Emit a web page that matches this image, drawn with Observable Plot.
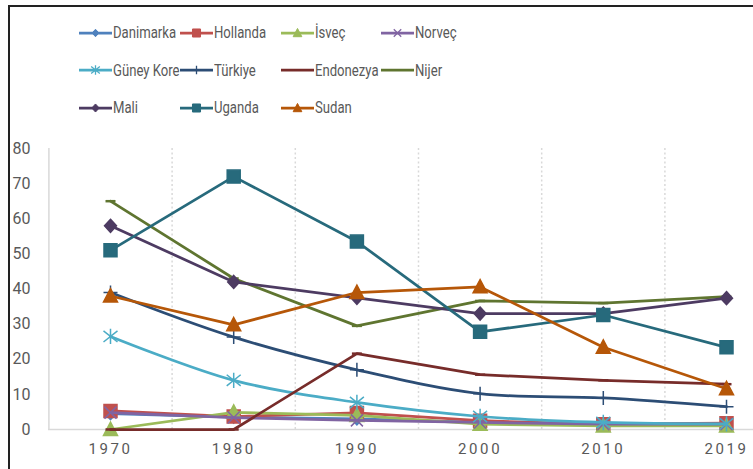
<!DOCTYPE html>
<html>
<head>
<meta charset="utf-8">
<script src="https://cdn.jsdelivr.net/npm/d3@7"></script>
<script src="https://cdn.jsdelivr.net/npm/@observablehq/plot@0.6"></script>
<style>
  html, body { margin: 0; padding: 0; background: #fff; }
  #wrap { position: relative; width: 753px; height: 469px; overflow: hidden; background: #fff; font-family: Roboto, "Noto Sans", sans-serif; }
  #frame { position: absolute; left: 8px; top: 5px; width: 760px; height: 462px; border-left: 2px solid #222; border-top: 2px solid #222; border-bottom: 1.5px solid #888; pointer-events: none; }
  #legend { position: absolute; left: 79px; top: 14px; display: grid; grid-template-columns: 101px 101px 100px auto; grid-auto-rows: 37.5px; }
  .item { display: flex; align-items: center; color: #595959; font-size: 16px; white-space: nowrap; }
  .item svg { flex: none; margin-right: 1px; }
  .item span { display: inline-block; transform: scaleX(0.82); transform-origin: 0 50%; }
  #chart { position: absolute; left: 0; top: 130px; }
  #chart svg { background: transparent; }
  #chart g[aria-label="x-axis tick label"] text { letter-spacing: 2.6px; }
</style>
</head>
<body>
<div id="wrap">
  <div id="legend"></div>
  <div id="chart"></div>
  <div id="frame"></div>
</div>
<script>
// ---- data ----
const years = ["1970", "1980", "1990", "2000", "2010", "2019"];
const countries = ["Danimarka", "Hollanda", "İsveç", "Norveç", "Güney Kore", "Türkiye", "Endonezya", "Nijer", "Mali", "Uganda", "Sudan"];
const danimarka = [4.5, 3.5, 3.0, 2.0, 1.5, 1.5];
const hollanda  = [5.3, 3.7, 4.7, 2.5, 1.5, 1.8];
const isvec     = [0.0, 4.9, 4.0, 1.5, 1.0, 1.0];
const norvec    = [4.8, 3.4, 2.6, 2.0, 1.5, 1.5];
const guneyKore = [26.5, 14.0, 7.7, 3.7, 2.0, 1.6];
const turkiye   = [39.0, 26.3, 17.0, 10.2, 9.0, 6.5];
const endonezya = [0.0, 0.0, 21.6, 15.6, 14.0, 12.9];
const nijer     = [65.0, 43.0, 29.5, 36.6, 36.0, 37.8];
const mali      = [58.0, 42.0, 37.5, 33.0, 33.0, 37.4];
const uganda    = [51.0, 72.0, 53.5, 27.8, 32.6, 23.4];
const sudan     = [38.0, 29.8, 39.0, 40.6, 23.4, 11.6];
const yTicks = [0, 10, 20, 30, 40, 50, 60, 70, 80];

const values = [danimarka, hollanda, isvec, norvec, guneyKore, turkiye, endonezya, nijer, mali, uganda, sudan];
const colors = ["#4F81BD", "#C0504D", "#9BBB59", "#8064A2", "#4BACC6", "#2C4D75", "#772C2A", "#5F7530", "#4D3B62", "#276A7C", "#B65708"];

// ---- marker symbols ----
const rad = s => Math.sqrt(s / Math.PI);
const diamond = { draw(c, s) { const r = rad(s); c.moveTo(0, -r); c.lineTo(r * 0.92, 0); c.lineTo(0, r); c.lineTo(-r * 0.92, 0); c.closePath(); } };
const square = { draw(c, s) { const r = rad(s); c.rect(-r, -r, 2 * r, 2 * r); } };
const triangle = { draw(c, s) { const r = rad(s); c.moveTo(0, -r * 1.05); c.lineTo(r, r * 0.85); c.lineTo(-r, r * 0.85); c.closePath(); } };
const times = { draw(c, s) { const r = rad(s); c.moveTo(-r, -r); c.lineTo(r, r); c.moveTo(r, -r); c.lineTo(-r, r); } };
const asterisk = { draw(c, s) { const r = rad(s); c.moveTo(-r, -r * 0.8); c.lineTo(r, r * 0.8); c.moveTo(r, -r * 0.8); c.lineTo(-r, r * 0.8); c.moveTo(0, -r * 1.1); c.lineTo(0, r * 1.1); } };
const plus = { draw(c, s) { const r = rad(s); c.moveTo(-r, 0); c.lineTo(r, 0); c.moveTo(0, -r); c.lineTo(0, r); } };
const dash = { draw(c, s) { const r = rad(s); c.moveTo(-r, 0); c.lineTo(r, 0); } };

const symbols = [diamond, square, triangle, times, asterisk, plus, dash, dash, diamond, square, triangle];
const filled = [true, true, true, false, false, false, false, false, true, true, true];
const radii = [6, 6.5, 7, 6, 7, 7, 5, 5, 6.5, 6.5, 7];
const curves = ["linear", "linear", "linear", "linear", "catmull-rom", "catmull-rom", "linear", "linear", "linear", "linear", "linear"];

const series = countries.map((name, k) => ({
  name, color: colors[k], symbol: symbols[k], filled: filled[k], r: radii[k], curve: curves[k],
  rows: years.map((yr, i) => ({ name, i, year: yr, value: values[k][i] }))
}));

// ---- legend ----
const legend = document.getElementById("legend");
for (const s of series) {
  const item = document.createElement("div");
  item.className = "item";
  const p = d3.path();
  s.symbol.draw(p, Math.PI * (s.r * 0.62) ** 2);
  const sw = `<svg width="33" height="14" viewBox="0 0 33 14">
    <line x1="0" x2="33" y1="7" y2="7" stroke="${s.color}" stroke-width="2.75"/>
    <path transform="translate(16.5,7)" d="${p.toString()}" fill="${s.filled ? s.color : "none"}" stroke="${s.color}" stroke-width="${s.filled ? 1 : 1.3}"/>
  </svg>`;
  item.innerHTML = sw + `<span>${s.name}</span>`;
  legend.appendChild(item);
}

// ---- chart ----
const boundaries = years.map((_, i) => i - 0.5);
const marks = [
  Plot.ruleX(boundaries.slice(1), { y1: 0, y2: 80, stroke: "#d9d9d9", strokeWidth: 1.5, strokeDasharray: "2,2.5" }),
  Plot.ruleX(boundaries.slice(0, 1), { y1: 0, y2: 80, stroke: "#d9d9d9", strokeWidth: 1.5 }),
  Plot.ruleY([0], { stroke: "#d9d9d9", strokeWidth: 1.5 }),
  Plot.axisY(yTicks, { tickSize: 0, tickPadding: 18, fontSize: 16, fill: "#595959", label: null }),
  Plot.axisX(years.map((_, i) => i), { tickSize: 0, tickPadding: 14, fontSize: 15, fill: "#595959", label: null, tickFormat: i => years[i] })
];
for (const s of series) {
  marks.push(Plot.line(s.rows, { x: "i", y: "value", stroke: s.color, strokeWidth: 2.75, curve: s.curve, strokeLinejoin: "round" }));
  marks.push(Plot.dot(s.rows, { x: "i", y: "value", symbol: s.symbol, r: s.r, fill: s.filled ? s.color : "none", stroke: s.color, strokeWidth: (s.symbol === dash ? 2.5 : 1.5) }));
}

const plot = Plot.plot({
  width: 753,
  height: 339,
  marginLeft: 48,
  marginRight: 0,
  marginTop: 18,
  marginBottom: 40,
  style: { fontFamily: "Roboto, 'Noto Sans', sans-serif", background: "transparent" },
  x: { type: "linear", domain: [-0.5, 5.5], range: [48.4, 787.6], axis: null },
  y: { domain: [0, 80], axis: null },
  marks
});
document.getElementById("chart").appendChild(plot);
</script>
</body>
</html>
